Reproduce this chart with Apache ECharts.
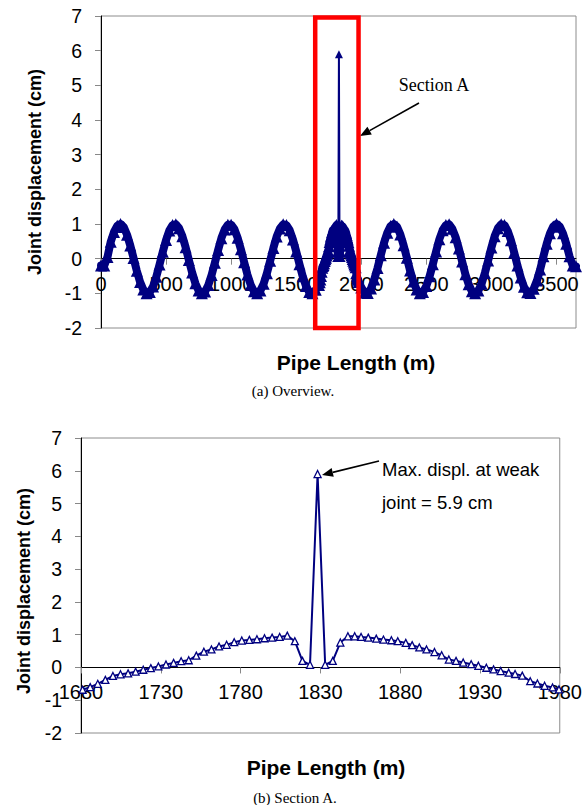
<!DOCTYPE html>
<html><head><meta charset="utf-8">
<script src="https://cdn.jsdelivr.net/npm/echarts@6/dist/echarts.min.js"></script>
<style>html,body{margin:0;padding:0;background:#fff;}#c{width:585px;height:805px;}</style>
</head><body><div id="c"></div>
<script>
// ---- Data ----
const overviewLeftX = [0,25,50,75,100,125,150,175,200,225,250,275,300,325,350,375,400,425,450,475,500,525,550,575,600,625,650,675,700,725,750,775,800,825,850,875,900,925,950,975,1000,1025,1050,1075,1100,1125,1150,1175,1200,1225,1250,1275,1300,1325,1350,1375,1400,1425,1450,1475,1500,1525,1550,1575,1600,1625,1650,1675];
const overviewLeftY = [-0.2,-0.2,0.05,0.49,0.77,0.95,1.0,0.91,0.69,0.38,
  0.02,-0.35,-0.67,-0.89,-1.0,-0.96,-0.8,-0.52,-0.17,0.2,
  0.54,0.81,0.97,0.99,0.88,0.65,0.33,-0.04,-0.4,-0.71,
  -0.92,-1.0,-0.95,-0.76,-0.47,-0.12,0.25,0.59,0.84,0.98,
  0.98,0.85,0.6,0.27,-0.1,-0.46,-0.75,-0.94,-1.0,-0.92,
  -0.72,-0.42,-0.06,0.31,0.64,0.87,0.99,0.97,0.82,0.55,
  0.21,-0.16,-0.51,-0.79,-0.96,-1.0,-0.9,-0.76];
const sectionX = [1681,1685.75,1690.5,1695.25,1700,1704.75,1709.5,1714.25,1719,1723.75,
  1728.5,1733.25,1738,1742.75,1747.5,1752.25,1757,1761.75,1766.5,1771.25,
  1776,1780.75,1785.5,1790.25,1795,1799.75,1804.5,1809.25,1814,1818.75,
  1823.5,1828.25,1833,1837.75,1842.5,1847.25,1851.5,1855.5,1860,1865,
  1869.5,1874.5,1878.5,1883.5,1887.5,1892,1896.5,1901.5,1906,1910.5,
  1915,1919.5,1924.5,1929,1934,1938.5,1943,1948,1952,1956.5,
  1961.5,1966,1970.5,1975.5,1979.5];
const sectionY = [-0.68,-0.6,-0.5,-0.38,-0.26,-0.21,-0.18,-0.13,-0.07,-0.02,
  0.03,0.09,0.14,0.19,0.22,0.36,0.48,0.55,0.64,0.69,
  0.77,0.82,0.84,0.86,0.89,0.91,0.93,0.97,0.8,0.2,
  0.08,5.9,0.08,0.2,0.76,0.95,0.95,0.93,0.91,0.88,
  0.85,0.83,0.8,0.75,0.68,0.61,0.55,0.47,0.37,0.24,
  0.2,0.15,0.1,0.05,-0.01,-0.06,-0.11,-0.16,-0.2,-0.25,
  -0.42,-0.49,-0.56,-0.61,-0.67];
const overviewRightX = [2000,2025,2050,2075,2100,2125,2150,2175,2200,2225,2250,2275,2300,2325,2350,2375,2400,2425,2450,2475,2500,2525,2550,2575,2600,2625,2650,2675,2700,2725,2750,2775,2800,2825,2850,2875,2900,2925,2950,2975,3000,3025,3050,3075,3100,3125,3150,3175,3200,3225,3250,3275,3300,3325,3350,3375,3400,3425,3450,3475,3500,3525,3550,3575,3600,3625,3650];
const overviewRightY = [-0.83,-0.98,-0.99,-0.86,-0.6,-0.27,0.1,0.46,0.75,0.94,
  1.0,0.92,0.7,0.39,0.03,-0.34,-0.66,-0.89,-1.0,-0.96,
  -0.79,-0.51,-0.16,0.21,0.56,0.82,0.97,0.99,0.86,0.62,
  0.29,-0.08,-0.45,-0.74,-0.94,-1.0,-0.92,-0.72,-0.41,-0.05,
  0.32,0.65,0.88,0.99,0.97,0.8,0.53,0.18,-0.2,-0.54,
  -0.81,-0.97,-0.99,-0.87,-0.63,-0.31,0.07,0.43,0.73,0.93,
  1.0,0.93,0.73,0.43,0.07,-0.2,-0.22];
const overviewTicks = [0,500,1000,1500,2000,2500,3000,3500];
const sectionTicks = [1680,1730,1780,1830,1880,1930,1980];
const sectionBox = [1646, 1979];   // Section A frame on the overview (m)
const spikeLimit = 3;              // values above this belong to the weak-joint spike

// ---- Build ----
const SANS = 'Liberation Sans, Arial, sans-serif';
const SERIF = 'Liberation Serif, Times New Roman, serif';
const NAVY = '#000080';
function pairs(xs, ys) { return xs.map((x, i) => [x, ys[i]]); }
const overviewData = pairs(overviewLeftX, overviewLeftY)
  .concat(pairs(sectionX, sectionY), pairs(overviewRightX, overviewRightY));
const spikeIdx = overviewData.findIndex(p => p[1] > spikeLimit);
const bandData = overviewData.filter(p => p[1] <= spikeLimit);
const spikeData = overviewData.slice(spikeIdx - 1, spikeIdx + 2);
const sectionData = pairs(sectionX, sectionY);

function xAxisCfg(gi, min, max, ticks) {
  return {
    type: 'value', gridIndex: gi, min: min, max: max, position: 'bottom',
    axisLine: { show: true, onZero: false, lineStyle: { color: '#000', width: 1 } },
    axisTick: { show: true, length: 6, customValues: ticks, lineStyle: { color: '#888' } },
    axisLabel: { customValues: ticks, fontSize: 20, color: '#000', margin: 15, fontFamily: SANS,
      formatter: function (v) { return String(v); } },
    splitLine: { show: false }
  };
}
function yAxisCfg(gi) {
  return {
    type: 'value', gridIndex: gi, min: -2, max: 7, interval: 1,
    axisLine: { show: true, onZero: false, lineStyle: { color: '#000', width: 1 } },
    axisTick: { show: true, length: 6, lineStyle: { color: '#888' } },
    axisLabel: { fontSize: 19.5, color: '#000', margin: 19, fontFamily: SANS },
    splitLine: { show: false }
  };
}
function arrow(x1, y1, x2, y2, len, half) {
  const dx = x2 - x1, dy = y2 - y1, L = Math.hypot(dx, dy), ux = dx / L, uy = dy / L;
  const bx = x2 - ux * len, by = y2 - uy * len;
  return [
    { type: 'line', z: 100, shape: { x1: x1, y1: y1, x2: bx, y2: by }, style: { stroke: '#000', lineWidth: 1.6 } },
    { type: 'polygon', z: 100, shape: { points: [[x2, y2], [bx - uy * half, by + ux * half], [bx + uy * half, by - ux * half]] }, style: { fill: '#000' } }
  ];
}
function txt(x, y, text, font, size, weight, align, rot) {
  return { type: 'text', z: 100, x: x, y: y, rotation: rot || 0,
    style: { text: text, fontFamily: font, fontSize: size, fontWeight: weight, fill: '#000',
      align: align, verticalAlign: 'middle' } };
}

const chart = echarts.init(document.getElementById('c'), null, { renderer: 'svg' });
const graphics = [
  txt(35, 172, 'Joint displacement (cm)', SANS, 18, 'bold', 'center', Math.PI / 2),
  txt(356, 362, 'Pipe Length (m)', SANS, 21, 'bold', 'center'),
  txt(293, 391, '(a) Overview.', SERIF, 15, 'normal', 'center'),
  txt(434, 85, 'Section A', SERIF, 18, 'normal', 'center'),
  txt(24, 591, 'Joint displacement (cm)', SANS, 18, 'bold', 'center', Math.PI / 2),
  txt(326, 767, 'Pipe Length (m)', SANS, 21, 'bold', 'center'),
  txt(295, 798, '(b) Section A.', SERIF, 15, 'normal', 'center'),
  txt(382, 469, 'Max. displ. at weak', SANS, 18.5, 'normal', 'left'),
  txt(382, 502, 'joint = 5.9 cm', SANS, 18.5, 'normal', 'left')
].concat(arrow(419, 103, 360, 136, 11, 4.5), arrow(379, 461, 322, 475, 11, 4.5));

const grids = [
  { left: 101, top: 16, width: 475, height: 312, show: true, borderColor: '#8c8c8c', borderWidth: 1, backgroundColor: 'transparent' },
  { left: 81, top: 438, width: 480, height: 295, show: true, borderColor: '#8c8c8c', borderWidth: 1, backgroundColor: 'transparent' }
];
const xAxes = [xAxisCfg(0, 0, 3650, overviewTicks), xAxisCfg(1, 1680, 1980, sectionTicks)];

chart.setOption({
  animation: false,
  backgroundColor: '#fff',
  grid: grids,
  xAxis: xAxes,
  yAxis: [yAxisCfg(0), yAxisCfg(1)],
  series: [
    { type: 'line', xAxisIndex: 0, yAxisIndex: 0, data: bandData,
      symbol: 'triangle', showAllSymbol: true, symbolSize: 12,
      itemStyle: { color: NAVY }, lineStyle: { color: NAVY, width: 8, join: 'round', cap: 'round' }, clip: false },
    { type: 'line', xAxisIndex: 0, yAxisIndex: 0, data: spikeData,
      symbol: 'triangle', showAllSymbol: true,
      symbolSize: function (v) { return v[1] > spikeLimit ? 8 : 0; },
      itemStyle: { color: NAVY }, lineStyle: { color: NAVY, width: 2 }, clip: false },
    { type: 'line', xAxisIndex: 1, yAxisIndex: 1, data: sectionData,
      symbol: 'triangle', showAllSymbol: true, symbolSize: 7,
      itemStyle: { color: '#fff', borderColor: NAVY, borderWidth: 1.3 },
      lineStyle: { color: NAVY, width: 2 }, clip: false }
  ],
  graphic: graphics
});

// put each x axis (line, ticks, labels) on the y = 0 line, as in the reference
xAxes.forEach(function (ax, i) {
  const zeroY = chart.convertToPixel({ yAxisIndex: i }, 0);
  ax.offset = zeroY - (grids[i].top + grids[i].height);
});
const p1 = chart.convertToPixel({ gridIndex: 0 }, [sectionBox[0], 7]);
const p2 = chart.convertToPixel({ gridIndex: 0 }, [sectionBox[1], -2]);
graphics.push({ type: 'rect', z: 100,
  shape: { x: p1[0], y: p1[1] + 1.5, width: p2[0] - p1[0], height: p2[1] - p1[1] - 1.5 },
  style: { fill: 'none', stroke: '#ff0000', lineWidth: 4.5 } });
chart.setOption({ xAxis: xAxes, graphic: graphics });
</script>
</body></html>
